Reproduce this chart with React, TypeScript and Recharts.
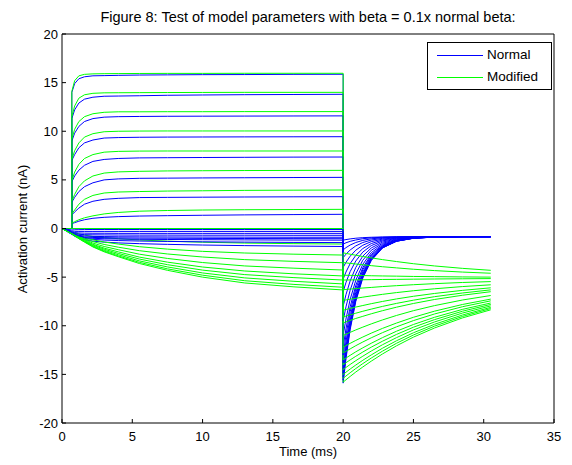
import React from 'react';
import { LineChart, Line, XAxis, YAxis } from 'recharts';

// time samples (ms): voltage step, then tail after return to holding at 20 ms
const STEP_T = [0, 0.7, 0.7, 0.9, 1.2, 1.6, 2.2, 3, 4, 5.5, 7.5, 10, 13, 16.5, 20];
const TAIL_T = [20, 20.2, 20.5, 20.9, 21.4, 22, 22.8, 23.8, 25, 26.5, 28.5, 30.5];

const X_TICKS = [0, 5, 10, 15, 20, 25, 30, 35];
const Y_TICKS = [-20, -15, -10, -5, 0, 5, 10, 15, 20];

// Normal (blue) traces during the step
const normalStep = [
  [0, 0, 14.0, 14.9, 15.4, 15.6, 15.7, 15.72, 15.75, 15.78, 15.8, 15.82, 15.83, 15.85, 15.86],
  [0, 0, 11.3, 12.2, 12.9, 13.3, 13.5, 13.6, 13.62, 13.65, 13.7, 13.73, 13.76, 13.78, 13.8],
  [0, 0, 9.0, 9.8, 10.5, 11.0, 11.3, 11.45, 11.5, 11.52, 11.54, 11.55, 11.56, 11.57, 11.58],
  [0, 0, 7.0, 7.6, 8.3, 8.8, 9.1, 9.3, 9.35, 9.38, 9.4, 9.41, 9.42, 9.43, 9.44],
  [0, 0, 4.8, 5.4, 6.0, 6.5, 6.9, 7.1, 7.2, 7.26, 7.28, 7.3, 7.32, 7.34, 7.35],
  [0, 0, 2.7, 3.2, 3.8, 4.3, 4.7, 5.0, 5.1, 5.16, 5.18, 5.2, 5.22, 5.24, 5.26],
  [0, 0, 1.4, 1.7, 2.1, 2.5, 2.8, 3.0, 3.1, 3.18, 3.2, 3.22, 3.24, 3.26, 3.27],
  [0, 0, 0.5, 0.6, 0.75, 0.9, 1.05, 1.15, 1.22, 1.28, 1.32, 1.36, 1.4, 1.43, 1.46],
  [0, 0, 0, 0, 0, 0, 0, 0, 0, 0, 0, 0, 0, 0, 0],
  [0, -0.6, -0.6, -0.8, -1.0, -1.15, -1.3, -1.4, -1.48, -1.56, -1.63, -1.7, -1.76, -1.81, -1.85],
  [0, -0.58, -0.58, -0.75, -0.9, -1.02, -1.12, -1.19, -1.24, -1.29, -1.33, -1.37, -1.4, -1.43, -1.45],
  [0, -0.55, -0.55, -0.7, -0.84, -0.94, -1.01, -1.05, -1.08, -1.11, -1.13, -1.15, -1.17, -1.19, -1.2],
  [0, -0.52, -0.52, -0.66, -0.78, -0.87, -0.92, -0.95, -0.97, -0.99, -1.0, -1.02, -1.03, -1.04, -1.05],
  [0, -0.48, -0.48, -0.6, -0.7, -0.77, -0.81, -0.83, -0.85, -0.86, -0.87, -0.88, -0.89, -0.9, -0.9],
  [0, -0.42, -0.42, -0.52, -0.59, -0.63, -0.65, -0.66, -0.67, -0.68, -0.68, -0.69, -0.69, -0.7, -0.7],
  [0, -0.35, -0.35, -0.42, -0.46, -0.48, -0.49, -0.49, -0.5, -0.5, -0.5, -0.5, -0.5, -0.5, -0.5],
  [0, -0.26, -0.26, -0.29, -0.3, -0.3, -0.3, -0.3, -0.3, -0.3, -0.3, -0.3, -0.3, -0.3, -0.3],
  [0, -0.15, -0.15, -0.13, -0.12, -0.11, -0.1, -0.1, -0.1, -0.1, -0.1, -0.1, -0.1, -0.1, -0.1],
];

// Normal (blue) tail currents
const normalTail = [
  [-15.9, -13.4, -10.4, -7.5, -5.1, -3.3, -2.0, -1.3, -1.0, -0.89, -0.84, -0.84],
  [-15.6, -13.15, -10.2, -7.35, -4.97, -3.23, -1.99, -1.31, -1.0, -0.88, -0.84, -0.84],
  [-15.3, -12.9, -10.0, -7.2, -4.89, -3.18, -1.97, -1.3, -1.0, -0.88, -0.84, -0.84],
  [-14.9, -12.57, -9.77, -7.04, -4.78, -3.12, -1.94, -1.29, -0.99, -0.88, -0.84, -0.84],
  [-14.4, -12.15, -9.45, -6.82, -4.64, -3.04, -1.9, -1.27, -0.99, -0.88, -0.84, -0.84],
  [-13.8, -11.65, -9.07, -6.56, -4.47, -2.94, -1.85, -1.25, -0.98, -0.88, -0.84, -0.84],
  [-13.0, -10.98, -8.56, -6.2, -4.24, -2.81, -1.79, -1.23, -0.97, -0.88, -0.84, -0.84],
  [-12.2, -10.31, -8.05, -5.85, -4.02, -2.68, -1.73, -1.2, -0.96, -0.87, -0.84, -0.84],
  [-11.0, -9.31, -7.29, -5.32, -3.68, -2.49, -1.63, -1.17, -0.95, -0.87, -0.84, -0.84],
  [-9.5, -8.06, -6.34, -4.66, -3.26, -2.24, -1.52, -1.12, -0.94, -0.87, -0.84, -0.84],
  [-8.0, -6.81, -5.39, -4.0, -2.84, -2.0, -1.4, -1.07, -0.92, -0.86, -0.84, -0.84],
  [-6.5, -5.56, -4.43, -3.34, -2.42, -1.76, -1.28, -1.02, -0.9, -0.86, -0.84, -0.84],
  [-5.2, -4.48, -3.61, -2.76, -2.06, -1.55, -1.18, -0.98, -0.89, -0.85, -0.84, -0.84],
  [-4.0, -3.48, -2.85, -2.23, -1.72, -1.35, -1.09, -0.94, -0.87, -0.85, -0.84, -0.84],
  [-3.0, -2.64, -2.21, -1.79, -1.44, -1.19, -1.01, -0.91, -0.86, -0.85, -0.84, -0.84],
  [-2.2, -1.97, -1.7, -1.44, -1.22, -1.06, -0.95, -0.88, -0.85, -0.84, -0.84, -0.84],
  [-1.6, -1.47, -1.32, -1.18, -1.05, -0.96, -0.9, -0.86, -0.85, -0.84, -0.84, -0.84],
  [-1.2, -1.14, -1.07, -1.0, -0.94, -0.9, -0.87, -0.85, -0.84, -0.84, -0.84, -0.84],
];

// Modified (green) traces during the step
const modifiedStep = [
  [0, 0, 14.1, 15.2, 15.7, 15.85, 15.9, 15.92, 15.93, 15.94, 15.95, 15.95, 15.96, 15.96, 15.96],
  [0, 0, 11.5, 12.6, 13.4, 13.75, 13.9, 13.95, 13.96, 13.97, 13.98, 13.99, 14.0, 14.0, 14.0],
  [0, 0, 9.2, 10.2, 11.0, 11.5, 11.8, 11.95, 12.0, 12.0, 12.01, 12.01, 12.02, 12.02, 12.02],
  [0, 0, 7.1, 8.0, 8.8, 9.4, 9.75, 9.95, 10.0, 10.02, 10.03, 10.03, 10.03, 10.03, 10.03],
  [0, 0, 4.9, 5.8, 6.6, 7.2, 7.6, 7.85, 7.93, 7.96, 7.97, 7.97, 7.97, 7.97, 7.97],
  [0, 0, 2.8, 3.5, 4.3, 4.9, 5.4, 5.7, 5.82, 5.88, 5.92, 5.94, 5.96, 5.97, 5.98],
  [0, 0, 1.5, 1.9, 2.5, 3.0, 3.4, 3.65, 3.75, 3.8, 3.85, 3.88, 3.92, 3.94, 3.96],
  [0, 0, 0.55, 0.7, 0.9, 1.1, 1.3, 1.5, 1.65, 1.78, 1.85, 1.9, 1.93, 1.95, 1.97],
  [0, 0, 0, 0, 0, 0, 0, 0, 0, 0, 0, 0, 0, 0, 0],
  [0, -0.35, -0.35, -0.44, -0.56, -0.68, -0.82, -0.94, -1.05, -1.18, -1.3, -1.41, -1.5, -1.56, -1.6],
  [0, -0.43, -0.43, -0.55, -0.72, -0.91, -1.16, -1.39, -1.6, -1.87, -2.12, -2.35, -2.52, -2.64, -2.73],
  [0, -0.47, -0.47, -0.61, -0.81, -1.04, -1.35, -1.64, -1.92, -2.28, -2.62, -2.93, -3.2, -3.38, -3.52],
  [0, -0.5, -0.5, -0.65, -0.88, -1.14, -1.5, -1.85, -2.18, -2.64, -3.08, -3.5, -3.85, -4.08, -4.27],
  [0, -0.52, -0.52, -0.68, -0.93, -1.22, -1.62, -2.02, -2.4, -2.94, -3.46, -3.96, -4.37, -4.66, -4.88],
  [0, -0.53, -0.53, -0.7, -0.97, -1.28, -1.7, -2.13, -2.56, -3.14, -3.72, -4.28, -4.74, -5.05, -5.3],
  [0, -0.54, -0.54, -0.72, -1.0, -1.33, -1.78, -2.24, -2.7, -3.33, -3.95, -4.57, -5.08, -5.43, -5.7],
  [0, -0.55, -0.55, -0.74, -1.03, -1.37, -1.85, -2.33, -2.82, -3.48, -4.15, -4.8, -5.37, -5.75, -6.04],
  [0, -0.55, -0.55, -0.75, -1.05, -1.4, -1.9, -2.4, -2.9, -3.6, -4.3, -5.0, -5.6, -6.0, -6.32],
];

// Modified (green) tail currents
const modifiedTail = [
  [-15.8, -15.56, -15.21, -14.76, -14.24, -13.64, -12.9, -12.06, -11.17, -10.23, -9.19, -8.36],
  [-15.4, -15.17, -14.83, -14.4, -13.89, -13.32, -12.61, -11.8, -10.95, -10.04, -9.04, -8.23],
  [-15.0, -14.78, -14.45, -14.04, -13.55, -13.0, -12.31, -11.54, -10.72, -9.85, -8.89, -8.11],
  [-14.5, -14.29, -13.98, -13.59, -13.13, -12.6, -11.95, -11.22, -10.43, -9.61, -8.69, -7.96],
  [-14.0, -13.8, -13.51, -13.14, -12.7, -12.2, -11.59, -10.89, -10.15, -9.37, -8.5, -7.81],
  [-13.5, -13.32, -13.04, -12.68, -12.27, -11.8, -11.22, -10.56, -9.87, -9.13, -8.31, -7.66],
  [-12.8, -12.63, -12.38, -12.05, -11.67, -11.24, -10.71, -10.11, -9.47, -8.79, -8.04, -7.44],
  [-12.2, -12.04, -11.81, -11.51, -11.16, -10.76, -10.27, -9.72, -9.13, -8.5, -7.81, -7.26],
  [-11.0, -10.87, -10.68, -10.43, -10.14, -9.81, -9.4, -8.94, -8.45, -7.93, -7.35, -6.89],
  [-9.7, -9.6, -9.45, -9.25, -9.03, -8.77, -8.45, -8.09, -7.71, -7.3, -6.86, -6.5],
  [-9.1, -9.01, -8.88, -8.71, -8.51, -8.29, -8.01, -7.7, -7.37, -7.01, -6.63, -6.31],
  [-8.4, -8.33, -8.22, -8.08, -7.92, -7.73, -7.5, -7.24, -6.97, -6.68, -6.36, -6.1],
  [-7.4, -7.35, -7.27, -7.18, -7.06, -6.93, -6.77, -6.59, -6.4, -6.2, -5.97, -5.79],
  [-6.3, -6.27, -6.23, -6.18, -6.12, -6.06, -5.97, -5.88, -5.78, -5.67, -5.55, -5.46],
  [-5.3, -5.3, -5.29, -5.28, -5.27, -5.26, -5.24, -5.23, -5.21, -5.19, -5.17, -5.15],
  [-4.8, -4.81, -4.82, -4.83, -4.84, -4.86, -4.88, -4.9, -4.93, -4.95, -4.98, -5.0],
  [-3.5, -3.53, -3.59, -3.65, -3.73, -3.82, -3.93, -4.05, -4.19, -4.33, -4.48, -4.6],
  [-2.5, -2.56, -2.64, -2.75, -2.88, -3.02, -3.2, -3.4, -3.62, -3.85, -4.1, -4.3],
];

const TIME = [...STEP_T, ...TAIL_T];
const chartData = TIME.map((t, i) => {
  const row: Record<string, number> = { t };
  const inStep = i < STEP_T.length;
  const j = i - STEP_T.length;
  normalStep.forEach((s, k) => {
    row['n' + k] = inStep ? s[i] : normalTail[k][j];
  });
  modifiedStep.forEach((s, k) => {
    row['m' + k] = inStep ? s[i] : modifiedTail[k][j];
  });
  return row;
});

const FONT = 'Arial, "Liberation Sans", Helvetica, sans-serif';
const BLUE = '#0000ff';
const GREEN = '#00ff00';

const App = () => (
  <div style={{ position: 'absolute', left: 0, top: 0, width: 572, height: 465, background: '#fff', fontFamily: FONT }}>
    <LineChart width={572} height={465} data={chartData} margin={{ top: 24, right: 8, bottom: 22, left: 22 }}>
      <XAxis
        xAxisId="b"
        dataKey="t"
        type="number"
        domain={[0, 35]}
        ticks={X_TICKS}
        allowDataOverflow
        height={20}
        tickSize={-4}
        tickMargin={13}
        stroke="#000"
        tick={{ fill: '#000', fontSize: 13, fontFamily: FONT }}
      />
      <XAxis xAxisId="top" orientation="top" type="number" domain={[0, 35]} ticks={X_TICKS} allowDataOverflow height={10} tickSize={-4} tick={false} stroke="#000" />
      <YAxis
        yAxisId="l"
        type="number"
        domain={[-20, 20]}
        ticks={Y_TICKS}
        allowDataOverflow
        width={40}
        tickSize={-4}
        tickMargin={8}
        stroke="#000"
        tick={{ fill: '#000', fontSize: 13, fontFamily: FONT }}
      />
      <YAxis yAxisId="r" orientation="right" type="number" domain={[-20, 20]} ticks={Y_TICKS} allowDataOverflow width={10} tickSize={-4} tick={false} stroke="#000" />
      {normalStep.map((_, k) => [
        <Line key={'n' + k} xAxisId="b" yAxisId="l" type="linear" dataKey={'n' + k} stroke={BLUE} strokeWidth={1} dot={false} isAnimationActive={false} />,
        <Line key={'m' + k} xAxisId="b" yAxisId="l" type="linear" dataKey={'m' + k} stroke={GREEN} strokeWidth={1} dot={false} isAnimationActive={false} />,
      ])}
    </LineChart>

    <div style={{ position: 'absolute', left: 62, width: 492, top: 9, textAlign: 'center', fontSize: 14.5, color: '#000', whiteSpace: 'nowrap' }}>
      Figure 8: Test of model parameters with beta = 0.1x normal beta:
    </div>
    <div style={{ position: 'absolute', left: 62, width: 492, top: 444, textAlign: 'center', fontSize: 13, color: '#000' }}>Time (ms)</div>
    <div
      style={{
        position: 'absolute',
        left: 22,
        top: 229,
        transform: 'translate(-50%, -50%) rotate(-90deg)',
        fontSize: 13,
        color: '#000',
        whiteSpace: 'nowrap',
      }}
    >
      Activation current (nA)
    </div>

    <div style={{ position: 'absolute', left: 427, top: 42, width: 123, height: 46, border: '1px solid #000', background: '#fff', fontSize: 13.5, color: '#000' }}>
      <div style={{ position: 'absolute', left: 9, top: 12, width: 46, height: 1, background: BLUE }} />
      <div style={{ position: 'absolute', left: 59, top: 4 }}>Normal</div>
      <div style={{ position: 'absolute', left: 9, top: 34, width: 46, height: 1, background: GREEN }} />
      <div style={{ position: 'absolute', left: 59, top: 26 }}>Modified</div>
    </div>
  </div>
);

export default App;
